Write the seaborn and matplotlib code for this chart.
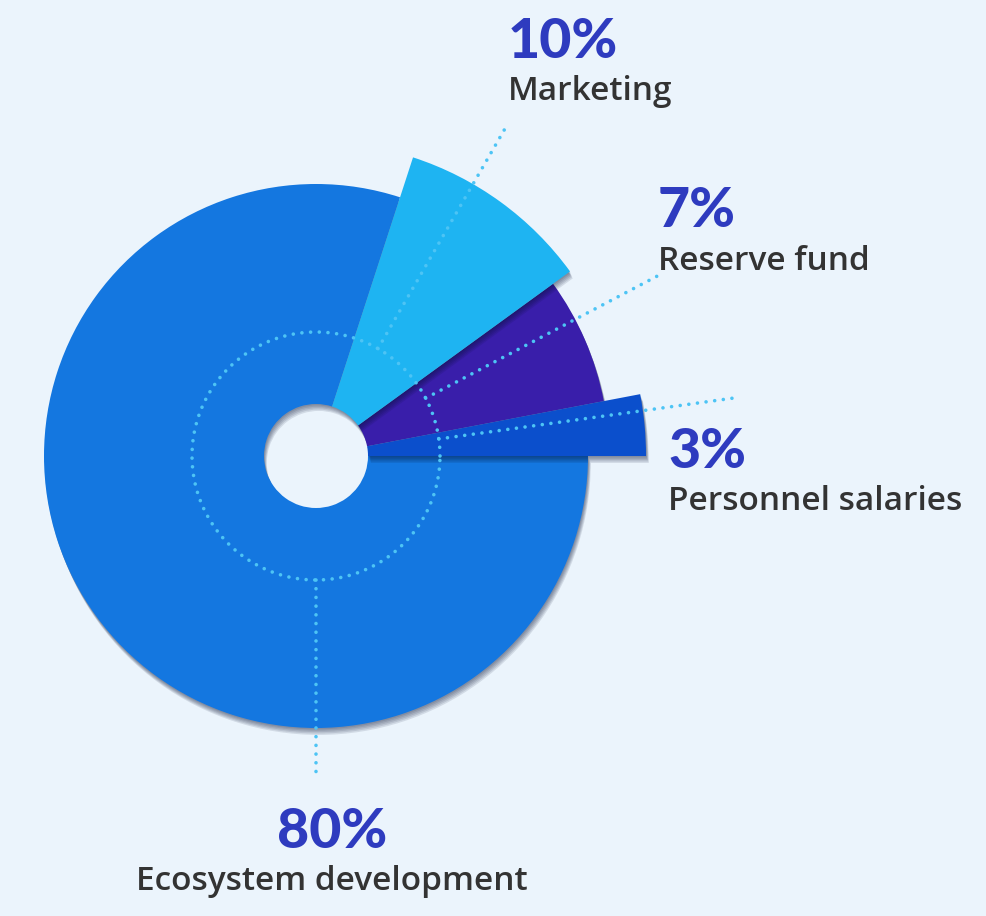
import numpy as np
import seaborn as sns
import matplotlib.pyplot as plt
from matplotlib import patheffects as pe

sns.set_theme(style="white")
plt.rcParams['font.family'] = ['Lato', 'DejaVu Sans']

# data, counter-clockwise from 3 o'clock
categories = ["Personnel salaries", "Reserve fund", "Marketing", "Ecosystem development"]
shares = [3, 7, 10, 80]
pct_labels = ["3%", "7%", "10%", "80%"]

# look
outer_radius = [330, 293, 314, 272]
colors = ["#0B4FCC", "#391EAA", "#1EB4F2", "#1477E0"]
draw_order = [3, 1, 0, 2]
bg = "#EBF4FC"
dot_col = "#4DC4F5"

W, H = 986, 916
cx, cy = 316, 456      # pie centre in pixels
rmax = 340
hole = 52
ring = 124

fig = plt.figure(figsize=(W / 100, H / 100), dpi=100, facecolor=bg)
ax = fig.add_axes([(cx - rmax) / W, (H - cy - rmax) / H, 2 * rmax / W, 2 * rmax / H],
                  projection="polar")
ax.set_ylim(0, rmax)
ax.set_axis_off()

start = np.deg2rad(np.cumsum([0] + shares[:-1]) * 3.6)
width = np.deg2rad(np.array(shares) * 3.6)

# soft drop shadow built from a few faint offset copies
shadow = [pe.SimplePatchShadow(offset=(o * 0.4, -o), shadow_rgbFace="#061030", alpha=0.11)
          for o in (1, 2, 3, 4, 5)] + [pe.Normal()]
for z, i in enumerate(draw_order):
    ax.bar(start[i], outer_radius[i] - hole, width=width[i], bottom=hole, align="edge",
           color=colors[i], linewidth=0, zorder=2 + z, path_effects=shadow)

# dotted ring + leader lines
dots = dict(color=dot_col, lw=2.6, linestyle=(0, (0.01, 2.4)), dash_capstyle="round",
            zorder=10, clip_on=False)
t = np.linspace(0, 2 * np.pi, 500)
ax.plot(t, np.full_like(t, ring), **dots)

leader_ang = [7.9, 27.8, 60, 270]
leader_end = [423, 388, 381, 319]
for a, r in zip(leader_ang, leader_end):
    ax.plot([np.deg2rad(a)] * 2, [ring, r], **dots)

# labels (pixel positions: x, baseline of %, baseline of name, alignment)
label_pos = [(668, 468, 510, "left"), (658, 227, 270, "left"),
             (508, 58, 100, "left"), (332, 848, 890, "center")]
for (x, y1, y2, ha), p, c in zip(label_pos, pct_labels, categories):
    fig.text(x / W, 1 - y1 / H, p, ha=ha, va="baseline", fontsize=40,
             fontweight="black", color="#2E3BBF")
    fig.text(x / W, 1 - y2 / H, c, ha=ha, va="baseline", fontsize=24,
             fontweight="semibold", color="#333333", family=["Open Sans", "DejaVu Sans"])

fig.savefig("out.png", dpi=100, facecolor=bg)
